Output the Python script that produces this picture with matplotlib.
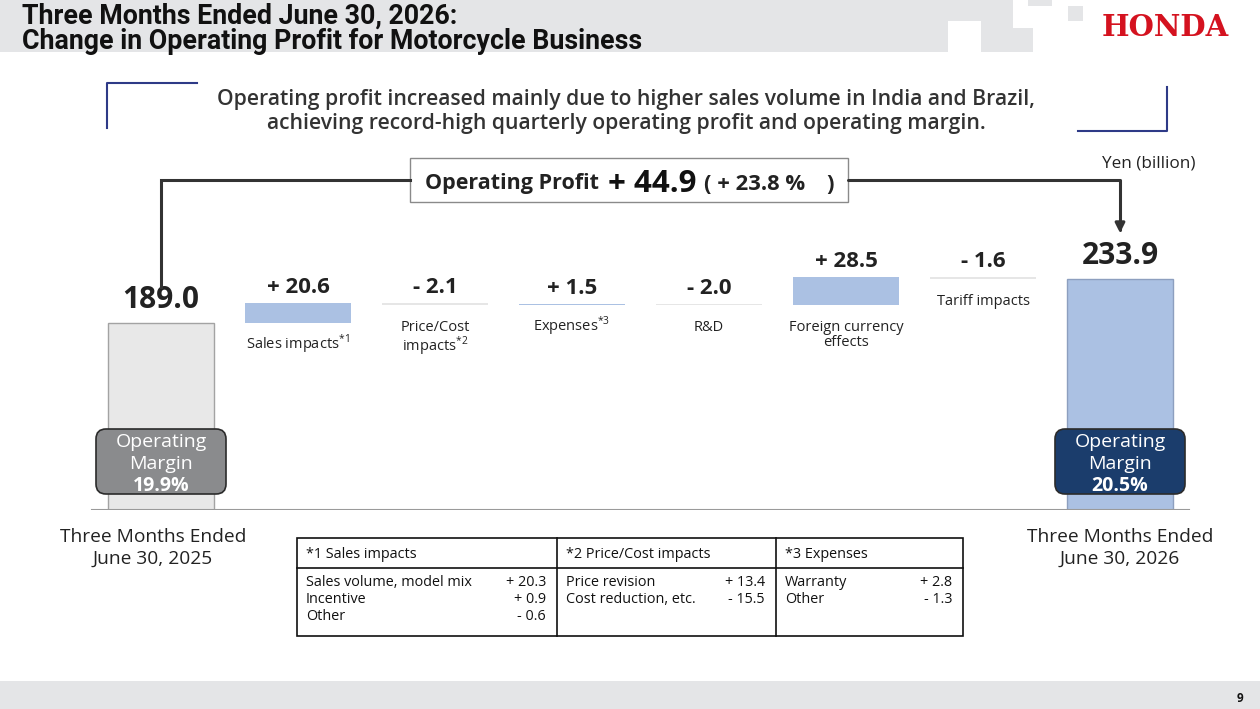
import matplotlib.pyplot as plt
from matplotlib.patches import Rectangle, FancyBboxPatch

W, H = 1260, 709

# Waterfall data, Yen (billion)
start_value = 189.0
end_value = 233.9
delta_labels = ['Sales impacts$^{\\mathregular{*1}}$', 'Price/Cost\nimpacts$^{\\mathregular{*2}}$',
                'Expenses$^{\\mathregular{*3}}$', 'R&D', 'Foreign currency\neffects', 'Tariff impacts']
delta_values = [20.6, -2.1, 1.5, -2.0, 28.5, -1.6]
period_labels = ['Three Months Ended\nJune 30, 2025', 'Three Months Ended\nJune 30, 2026']
margin_values = ['19.9%', '20.5%']
change_total = 44.9
change_pct = 23.8

# footnote table
table_titles = ['*1 Sales impacts', '*2 Price/Cost impacts', '*3 Expenses']
sales_items = ['Sales volume, model mix', 'Incentive', 'Other']
sales_values = [20.3, 0.9, -0.6]
price_items = ['Price revision', 'Cost reduction, etc.']
price_values = [13.4, -15.5]
expense_items = ['Warranty', 'Other']
expense_values = [2.8, -1.3]

BLUE = '#abc1e3'
GREY = '#e6e6e6'
TXT = '#222222'
BAND = '#e4e5e7'
NAVY = '#2e3a87'
FONT = 'Open Sans'


def fmt(v):
    return ('+ ' if v >= 0 else '- ') + f'{abs(v):.1f}'


plt.rcParams['font.family'] = [FONT, 'DejaVu Sans']
plt.rcParams['mathtext.fontset'] = 'custom'
plt.rcParams['mathtext.rm'] = FONT

fig = plt.figure(figsize=(W / 100, H / 100), dpi=100)

# --- chart axes (x = bar index, y = yen billion) ---
step = 137
x0 = 161
ax_left = x0 - 0.75 * step
ax_bottom = 510
ax_top = 250
px_per_unit = 0.988
ax = fig.add_axes([ax_left / W, 1 - ax_bottom / H, 8.5 * step / W, (ax_bottom - ax_top) / H])
ax.set_xlim(-0.75, 7.75)
ax.set_ylim(0, (ax_bottom - ax_top) / px_per_unit)
ax.axis('off')
ax.set_zorder(1)

levels = [start_value]
for d in delta_values:
    levels.append(levels[-1] + d)
bottoms = [min(levels[i], levels[i + 1]) for i in range(len(delta_values))]
heights = [abs(d) for d in delta_values]
colors = [BLUE if d > 0 else GREY for d in delta_values]
xs = list(range(1, len(delta_values) + 1))
end_x = len(delta_values) + 1

ax.bar(0, start_value, width=0.77, color='#e8e8e8', edgecolor='#a3a3a3', lw=1)
ax.bar(xs, heights, bottom=bottoms, width=0.77, color=colors)
ax.bar(end_x, end_value, width=0.77, color=BLUE, edgecolor='#8d9fbf', lw=1)
ax.axhline(0, xmin=(92 - ax_left) / (8.5 * step), xmax=(1189 - ax_left) / (8.5 * step),
           color='#9a9a9a', lw=1.5)

for x, b, h, d, lab in zip(xs, bottoms, heights, delta_values, delta_labels):
    ax.annotate(fmt(d), (x, b + h), xytext=(0, 10), textcoords='offset pixels',
                ha='center', va='baseline', fontsize=16, fontweight='bold', color=TXT)
    # mathtext superscripts raise the text box, so those labels sit a little higher
    off = -9 if '$' in lab.split('\n')[0] else -15
    ax.annotate(lab, (x, b), xytext=(0, off), textcoords='offset pixels',
                ha='center', va='top', fontsize=10.5, color=TXT, linespacing=0.95)

for x, v in [(0, start_value), (end_x, end_value)]:
    ax.annotate(f'{v:.1f}', (x, v), xytext=(0, 15), textcoords='offset pixels',
                ha='center', va='baseline', fontsize=21.5, fontweight='bold', color=TXT)

fig.canvas.draw()


def to_px(x, y):
    px, py = ax.transData.transform((x, y))
    return px, H - py


# --- overlay in pixel coordinates (y down) ---
ov = fig.add_axes([0, 0, 1, 1])
ov.set_xlim(0, W)
ov.set_ylim(H, 0)
ov.axis('off')
ov.set_zorder(2)
ov.patch.set_alpha(0)

# header band
for (a, b, c, d) in [(0, 0, 948, 52), (948, 0, 1013, 21), (981, 21, 1013, 52),
                     (1013, 28, 1033, 52), (1028, 0, 1052, 6), (1068, 6, 1083, 21)]:
    ov.add_patch(Rectangle((a, b), c - a, d - b, color=BAND, lw=0))
ov.text(22, 29, 'Three Months Ended June 30, 2026:\nChange in Operating Profit for Motorcycle Business',
        ha='left', va='center', fontsize=19.3, fontweight='bold', color='#111111',
        family=['Roboto', 'DejaVu Sans'], linespacing=0.95)
ov.text(1165, 27, 'HONDA', ha='center', va='center', fontsize=21, fontweight='bold',
        color='#d4121f', family=['DejaVu Serif'])

# footer
ov.add_patch(Rectangle((0, 681), W, H - 681, color=BAND, lw=0))
ov.text(1240, 699, '9', ha='center', va='center', fontsize=8.5, fontweight='bold', color='#111111')

# headline with corner brackets
ov.plot([107, 107, 197], [128, 83, 83], color=NAVY, lw=1.5)
ov.plot([1167, 1167, 1078], [87, 131, 131], color=NAVY, lw=1.5)
ov.text(626, 99, 'Operating profit increased mainly due to higher sales volume in India and Brazil,',
        ha='center', va='center', fontsize=15.2, fontweight='semibold', color='#333333')
ov.text(626, 124, 'achieving record-high quarterly operating profit and operating margin.',
        ha='center', va='center', fontsize=15.2, fontweight='semibold', color='#333333')

# operating profit change box and connectors
sx, _ = to_px(0, start_value)
ex, ey = to_px(end_x, end_value)
ov.add_patch(Rectangle((410, 158), 438, 44, facecolor='white', edgecolor='#8a8a8a', lw=1))
ov.plot([sx, sx, 410], [287, 180, 180], color='#333333', lw=2.2, solid_joinstyle='miter')
ov.annotate('', xy=(ex, 233), xytext=(848, 180), xycoords='data',
            arrowprops=dict(arrowstyle='-|>', color='#333333', lw=2.2, mutation_scale=14,
                            connectionstyle='angle,angleA=0,angleB=90,rad=0', shrinkA=0, shrinkB=0))
ov.text(425, 189, 'Operating Profit', ha='left', va='baseline', fontsize=15.5, fontweight='bold', color=TXT)
ov.text(608, 192, fmt(change_total), ha='left', va='baseline', fontsize=22.5, fontweight='bold', color='#111111')
ov.text(704, 190, f'( + {change_pct:.1f} %', ha='left', va='baseline', fontsize=15.8,
        fontweight='bold', color=TXT)
ov.text(826, 190, ')', ha='left', va='baseline', fontsize=15.8, fontweight='bold', color=TXT)
ov.text(1195, 163, 'Yen (billion)', ha='right', va='center', fontsize=12.3, color=TXT)

# operating margin badges
for x, m, fc in [(0, margin_values[0], '#8a8b8d'), (end_x, margin_values[1], '#1b3d6c')]:
    cx, _ = to_px(x, 0)
    ov.add_patch(FancyBboxPatch((cx - 65, 429), 130, 65, boxstyle='round,pad=0,rounding_size=10',
                                facecolor=fc, edgecolor='#2b2b2b', lw=1.2))
    ov.text(cx, 442, 'Operating', ha='center', va='center', fontsize=14, color='white')
    ov.text(cx, 464, 'Margin', ha='center', va='center', fontsize=14, color='white')
    ov.text(cx, 486, m, ha='center', va='center', fontsize=14, fontweight='bold', color='white')

# period labels
for cx, lab in zip([153, 1120], period_labels):
    ov.text(cx, 548, lab, ha='center', va='center', fontsize=13.8, color=TXT, linespacing=1.3)

# footnote table
tl, tr, tt, tb, th = 297, 963, 538, 636, 568
cols = [297, 557, 776, 963]
ov.add_patch(Rectangle((tl, tt), tr - tl, tb - tt, facecolor='none', edgecolor='#111111', lw=1.2))
ov.plot([tl, tr], [th, th], color='#111111', lw=1.2)
for c in cols[1:-1]:
    ov.plot([c, c], [tt, tb], color='#111111', lw=1.2)
groups = [(sales_items, sales_values), (price_items, price_values), (expense_items, expense_values)]
for i, (title, (items, vals)) in enumerate(zip(table_titles, groups)):
    left, right = cols[i], cols[i + 1]
    ov.text(left + 9, 555, title, ha='left', va='center', fontsize=10.4, color='#111111')
    for j, (it, v) in enumerate(zip(items, vals)):
        y = 583 + j * 16.5
        ov.text(left + 9, y, it, ha='left', va='center', fontsize=10.4, color='#111111')
        ov.text(right - 11, y, fmt(v), ha='right', va='center', fontsize=10.4, color='#111111')

fig.savefig('out.png', dpi=100)
